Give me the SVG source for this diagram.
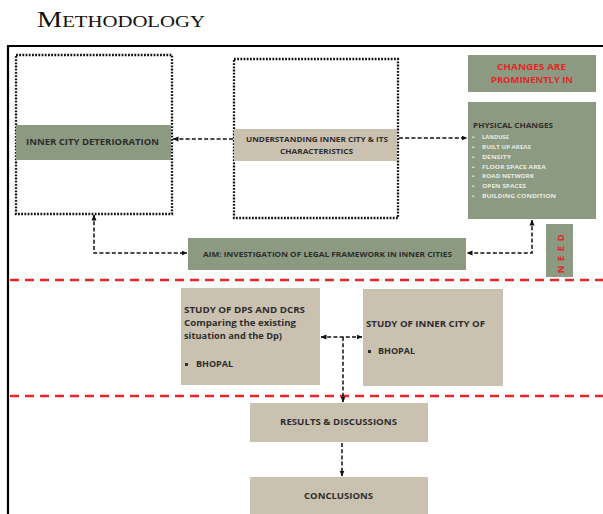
<svg xmlns="http://www.w3.org/2000/svg" width="603" height="514" viewBox="0 0 603 514">
<defs>
<marker id="ah" viewBox="0 0 6 6" refX="5.5" refY="3" markerWidth="6" markerHeight="6" markerUnits="userSpaceOnUse" orient="auto-start-reverse">
<path d="M0,0.5 L6,3 L0,5.5 Z" fill="#111"/>
</marker>
<style>
.dot{fill:none;stroke:#111;stroke-width:2.3;stroke-dasharray:1.8 1.4}
.green{fill:#8b9a80}
.tan{fill:#cbc1b0}
.lbl{font-family:"Open Sans","Liberation Sans",sans-serif;font-weight:bold;fill:#2e2e2e}
.red{font-family:"Open Sans","Liberation Sans",sans-serif;font-weight:bold;fill:#e3262a}
.wht{font-family:"Open Sans","Liberation Sans",sans-serif;font-weight:bold;fill:#e9ebe2;font-size:6px}
.con{fill:none;stroke:#111;stroke-width:1.5;stroke-dasharray:4 2.2}
.sep{fill:none;stroke:#e8252a;stroke-width:2.5;stroke-dasharray:9 6}
</style>
</defs>
<rect width="603" height="514" fill="#ffffff"/>
<text x="37" y="27" font-family="Liberation Serif,serif" fill="#111" textLength="168" lengthAdjust="spacingAndGlyphs"><tspan font-size="22.5">M</tspan><tspan font-size="16.5">ETHODOLOGY</tspan></text>
<path d="M8,514 V46 H603" fill="none" stroke="#000" stroke-width="2.2"/>
<g id="separators">
<line class="sep" x1="10" y1="280" x2="603" y2="280"/>
<line class="sep" x1="10" y1="396" x2="603" y2="396"/>
</g>
<g id="frame-left">
<rect class="dot" x="16" y="55" width="156" height="159"/>
</g>
<g id="frame-mid">
<rect class="dot" x="234" y="59" width="164" height="159"/>
</g>
<g id="inner-city-deterioration">
<rect class="green" x="16" y="125" width="155" height="35"/>
<text class="lbl" x="92.5" y="145" font-size="8" text-anchor="middle" textLength="133" lengthAdjust="spacingAndGlyphs">INNER CITY DETERIORATION</text>
</g>
<g id="understanding">
<rect class="tan" x="234" y="129" width="163" height="32"/>
<text class="lbl" x="317" y="142" font-size="7.2" text-anchor="middle" textLength="142" lengthAdjust="spacingAndGlyphs">UNDERSTANDING INNER CITY &amp; ITS</text>
<text class="lbl" x="316.5" y="154" font-size="7.2" text-anchor="middle" textLength="73" lengthAdjust="spacingAndGlyphs">CHARACTERISTICS</text>
</g>
<g id="changes-prominently">
<rect class="green" x="468" y="55" width="128" height="37"/>
<text class="red" x="531.5" y="70" font-size="8.5" text-anchor="middle" textLength="69" lengthAdjust="spacingAndGlyphs">CHANGES ARE</text>
<text class="red" x="532" y="83" font-size="8.5" text-anchor="middle" textLength="82" lengthAdjust="spacingAndGlyphs">PROMINENTLY IN</text>
</g>
<g id="physical-changes">
<rect class="green" x="468" y="102" width="128" height="117"/>
<text class="lbl" x="473" y="128" font-size="7" textLength="80" lengthAdjust="spacingAndGlyphs">PHYSICAL CHANGES</text>
<g class="wht">
<text x="472" y="139">•</text><text x="482" y="139" textLength="27" lengthAdjust="spacingAndGlyphs">LANDUSE</text>
<text x="472" y="149">•</text><text x="482" y="149" textLength="49" lengthAdjust="spacingAndGlyphs">BUILT UP AREAS</text>
<text x="472" y="158.5">•</text><text x="482" y="158.5" textLength="29" lengthAdjust="spacingAndGlyphs">DENSITY</text>
<text x="472" y="168.5">•</text><text x="482" y="168.5" textLength="64" lengthAdjust="spacingAndGlyphs">FLOOR SPACE AREA</text>
<text x="472" y="178">•</text><text x="482" y="178" textLength="52" lengthAdjust="spacingAndGlyphs">ROAD NETWORK</text>
<text x="472" y="188">•</text><text x="482" y="188" textLength="44" lengthAdjust="spacingAndGlyphs">OPEN SPACES</text>
<text x="472" y="197.5">•</text><text x="482" y="197.5" textLength="74" lengthAdjust="spacingAndGlyphs">BUILDING CONDITION</text>
</g>
</g>
<g id="need">
<rect class="green" x="546" y="224" width="27" height="53"/>
<text class="red" x="0" y="0" font-size="9.5" text-anchor="middle" letter-spacing="4.5" transform="translate(563.5,251.5) rotate(-90)">NEED</text>
</g>
<g id="aim">
<rect class="green" x="188" y="238" width="278" height="32"/>
<text class="lbl" x="327.5" y="257" font-size="7.2" text-anchor="middle" textLength="249" lengthAdjust="spacingAndGlyphs">AIM: INVESTIGATION OF LEGAL FRAMEWORK IN INNER CITIES</text>
</g>
<g id="study-dps">
<rect class="tan" x="181" y="288" width="139" height="97"/>
<text class="lbl" x="184" y="313" font-size="8.6" textLength="121" lengthAdjust="spacingAndGlyphs">STUDY OF DPS AND DCRS</text>
<text class="lbl" x="184" y="326" font-size="8.6" textLength="112" lengthAdjust="spacingAndGlyphs">Comparing the  existing</text>
<text class="lbl" x="184" y="339" font-size="8.6" textLength="98" lengthAdjust="spacingAndGlyphs">situation and the Dp)</text>
<rect x="185" y="363" width="3" height="3" fill="#2e2e2e"/>
<text class="lbl" x="196" y="367" font-size="8.6" textLength="37" lengthAdjust="spacingAndGlyphs">BHOPAL</text>
</g>
<g id="study-inner-city">
<rect class="tan" x="363" y="289" width="140" height="97"/>
<text class="lbl" x="366" y="327" font-size="8.6" textLength="119" lengthAdjust="spacingAndGlyphs">STUDY OF INNER CITY OF</text>
<rect x="368" y="350" width="3" height="3" fill="#2e2e2e"/>
<text class="lbl" x="378" y="354" font-size="8.6" textLength="37" lengthAdjust="spacingAndGlyphs">BHOPAL</text>
</g>
<g id="results">
<rect class="tan" x="250" y="403" width="178" height="39"/>
<text class="lbl" x="338.5" y="425" font-size="8.3" text-anchor="middle" textLength="117" lengthAdjust="spacingAndGlyphs">RESULTS &amp; DISCUSSIONS</text>
</g>
<g id="conclusions">
<rect class="tan" x="250" y="477" width="178" height="37"/>
<text class="lbl" x="338.5" y="499" font-size="8.3" text-anchor="middle" textLength="69" lengthAdjust="spacingAndGlyphs">CONCLUSIONS</text>
</g>
<g id="connectors">
<path class="con" d="M233,139 H173" marker-end="url(#ah)"/>
<path class="con" d="M399,138 H467" marker-end="url(#ah)"/>
<path class="con" d="M94,215 V253 H187" marker-start="url(#ah)" marker-end="url(#ah)"/>
<path class="con" d="M532,220 V253 H467" marker-start="url(#ah)" marker-end="url(#ah)"/>
<path class="con" d="M321,337 H362" marker-start="url(#ah)" marker-end="url(#ah)"/>
<path class="con" d="M343,337 V402" marker-end="url(#ah)"/>
<path class="con" d="M342,443 V476" marker-end="url(#ah)"/>
</g>
</svg>
